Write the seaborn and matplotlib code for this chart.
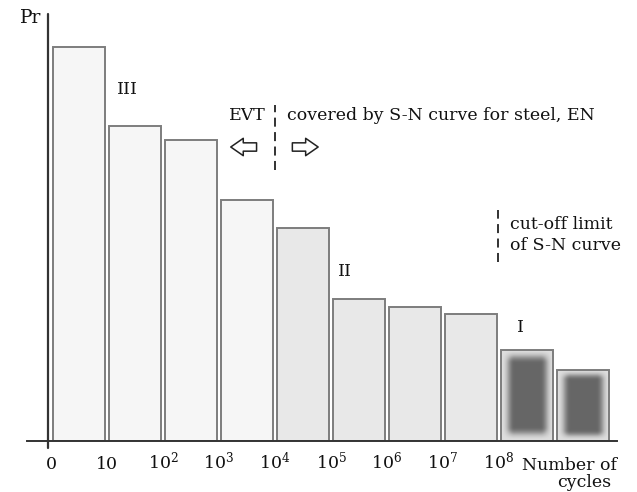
import numpy as np
import pandas as pd
import matplotlib
matplotlib.use('Agg')
import matplotlib.pyplot as plt
import seaborn as sns

# Data (bar heights, arbitrary probability units)
bins = ['0-10', '10-1e2', '1e2-1e3', '1e3-1e4', '1e4-1e5',
        '1e5-1e6', '1e6-1e7', '1e7-1e8', '1e8-1e9', '>1e9']
pr = [98.5, 78.8, 75.3, 60.3, 53.3, 35.5, 33.5, 31.8, 22.8, 17.8]
zone = ['III', 'III', 'III', 'III', 'II', 'II', 'II', 'II', 'I', 'I']
edge_labels = ['0', '10', '10$^2$', '10$^3$', '10$^4$', '10$^5$',
               '10$^6$', '10$^7$', '10$^8$']

zone_colors = {'III': '#f6f6f6', 'II': '#e8e8e8', 'I': '#8c8c8c'}

sns.set_style('white')
plt.rcParams['font.family'] = ['DejaVu Serif']
plt.rcParams['mathtext.fontset'] = 'dejavuserif'
plt.rcParams['text.color'] = '#111111'
plt.rcParams['xtick.color'] = '#111111'

df = pd.DataFrame({'bin': bins, 'pr': pr, 'zone': zone})

fig = plt.figure(figsize=(6.37, 4.92), dpi=100)
# axes spans pixel x 27..617, y 14..441
ax = fig.add_axes([27 / 637, 51 / 492, 590 / 637, 427 / 492])

sns.barplot(data=df, x='bin', y='pr', hue='bin',
            palette=[zone_colors[z] for z in zone], legend=False,
            width=0.93, edgecolor='#7d7d7d', linewidth=1.4, ax=ax)

# smudgy dark fill for zone I bars
for patch, z in zip(ax.patches, zone):
    if z != 'I':
        continue
    x0, y0 = patch.get_x(), patch.get_y()
    w, h = patch.get_width(), patch.get_height()
    ny, nx = 80, 50
    yy = np.linspace(0, 1, ny)[:, None]
    xx = np.linspace(0, 1, nx)[None, :]
    fx = np.clip(np.minimum(xx, 1 - xx) / 0.25, 0, 1)
    fy = np.clip(np.minimum(yy, 1 - yy) / 0.15, 0, 1)
    fx = fx * fx * (3 - 2 * fx)
    fy = fy * fy * (3 - 2 * fy)
    img = 0.22 + 0.45 * (fx * fy)
    im = ax.imshow(img, cmap='Greys', vmin=0, vmax=1,
                   extent=[x0, x0 + w, y0, y0 + h], aspect='auto',
                   interpolation='bicubic', zorder=patch.get_zorder())
    im.set_clip_path(patch)
    patch.set_zorder(patch.get_zorder() + 0.1)
    patch.set_facecolor('none')
ax.set_xlim(-0.929, 9.607)
ax.set_ylim(0, 106.75)

# axes lines
for s in ['top', 'right', 'left']:
    ax.spines[s].set_visible(False)
ax.spines['bottom'].set_color('#333333')
ax.spines['bottom'].set_linewidth(1.4)
ax.plot([-0.554, -0.554], [-1.8, 106.75], color='#333333', lw=1.6,
        clip_on=False, zorder=5)

ax.set_xticks(np.arange(-0.5, 7.6, 1.0))
ax.set_xticklabels(edge_labels, fontsize=12.5)
for lbl in ax.get_xticklabels():
    lbl.set_verticalalignment('baseline')
ax.tick_params(axis='x', length=0, pad=20)
ax.set_yticks([])
ax.set_xlabel('')
ax.set_ylabel('')

fig.text(20 / 637, 1 - 18 / 492, 'Pr', fontsize=13.5, va='center', ha='left')
ax.text(9.6, -7.25, 'Number of', fontsize=12.5, ha='right', va='baseline')
ax.text(9.5, -11.6, 'cycles', fontsize=12.5, ha='right', va='baseline')

# zone labels
ax.text(0.87, 88, 'III', fontsize=12.5, ha='center', va='center')
ax.text(4.75, 42.5, 'II', fontsize=12.5, ha='center', va='center')
ax.text(7.89, 28.5, 'I', fontsize=12.5, ha='center', va='center')

# EVT / S-N boundary
ax.plot([3.5, 3.5], [67.75, 84], color='#222222', lw=1.3, ls=(0, (5, 3)))
ax.text(3.33, 81.5, 'EVT', fontsize=12.5, ha='right', va='center')
ax.text(3.71, 81.5, 'covered by S-N curve for steel, EN', fontsize=12.5,
        ha='left', va='center')
arrow = dict(arrowstyle='simple,head_width=1.25,head_length=0.9,tail_width=0.6',
             fc='white', ec='#222222', lw=1.1)
ax.annotate('', xy=(2.66, 73.5), xytext=(3.22, 73.5), arrowprops=arrow)
ax.annotate('', xy=(4.32, 73.5), xytext=(3.76, 73.5), arrowprops=arrow)

# cut-off limit
ax.plot([7.48, 7.48], [44.75, 57.75], color='#222222', lw=1.3, ls=(0, (5, 3)))
ax.text(7.70, 51.5, 'cut-off limit\nof S-N curve', fontsize=12.5,
        ha='left', va='center', linespacing=1.25)

fig.savefig('out.png', dpi=100)
